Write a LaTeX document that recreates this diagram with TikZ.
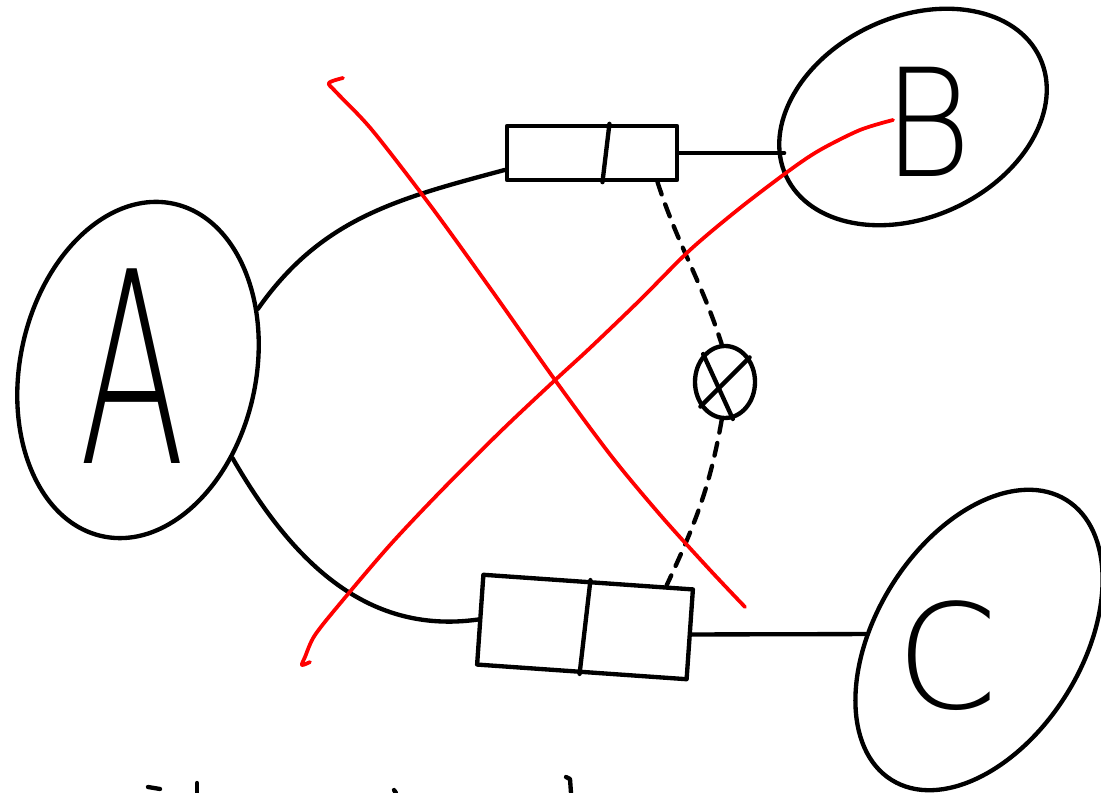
\documentclass[tikz,border=0pt]{standalone}
\usepackage{fontspec}
\usepackage{tikz}
\usetikzlibrary{positioning,shapes.geometric,calc}
\newfontfamily\handfont{DejaVu Sans ExtraLight}

\begin{document}
\begin{tikzpicture}[x=0.03cm,y=0.03cm,
    pen/.style={line width=3.7pt,line cap=round,line join=round},
    blob/.style={pen,draw,ellipse,inner sep=0pt},
    queue/.style={pen,draw,rectangle,inner sep=0pt},
    lossy/.style={pen,dash pattern=on 11pt off 9pt},
    strike/.style={line width=3.2pt,red,line cap=round,line join=round},
    letter/.style={inner sep=0pt}]
    \useasboundingbox (0,0) rectangle (1101,793);

    % Hosts A, B and C
    \node[blob,minimum width=7.08cm,minimum height=10.2cm,rotate=-12] (A) at (138,423) {};
    \node[blob,minimum width=8.4cm,minimum height=6cm,rotate=25] (B) at (913,676) {};
    \node[blob,minimum width=9.9cm,minimum height=6.18cm,rotate=58] (C) at (979,153) {};
    \node[letter,font=\handfont\fontsize{228}{228}\selectfont] (Aname) at (132,427) {\scalebox{0.58}[1]{A}};
    \node[letter,font=\handfont\fontsize{128}{128}\selectfont] (Bname) at (928,671) {\scalebox{0.9}[1]{B}};
    \node[letter,font=\handfont\fontsize{124}{124}\selectfont] (Cname) at (947,137) {C};

    % Queues
    \node[queue,minimum width=5.1cm,minimum height=1.62cm] (q1) at (592,640) {};
    \node[queue,minimum width=6.3cm,minimum height=2.7cm,rotate=-4] (q2) at (585,166) {};
    \draw[pen] ($(q1.north west)!0.6!(q1.north east)$) -- ($(q1.south west)!0.56!(q1.south east)$);
    \draw[pen] ($(q2.north west)!0.51!(q2.north east)$) -- ($(q2.south west)!0.49!(q2.south east)$);

    % Dropped packet
    \node[pen,draw,ellipse,minimum width=1.8cm,minimum height=2.16cm,inner sep=0pt] (drop) at (725,411) {};
    \draw[pen] (drop.128) -- (drop.-78);
    \draw[pen] (drop.-135) -- (drop.45);

    % Links
    \draw[pen] (A.39) to[out=55,in=195] (q1.191);
    \draw[pen] (A.-31) to[out=-60,in=188] (q2.west);
    \draw[pen] (q1.east) -- (q1.east -| B.west);
    \draw[pen] (q2.east) -- (C.119);
    \draw[lossy] (q1.-24) to[out=-72,in=108] (drop.95);
    \draw[lossy] (drop.-95) to[out=-100,in=65] (q2.31);

    % Crossed out
    \draw[strike] plot[smooth] coordinates {(343,715) (329,710) (336,701) (372,663) (430,588)
        (490,505) (555,413) (612,336) (662,276) (710,223) (745,186)};
    \draw[strike] plot[smooth] coordinates {(893,673) (860,663) (820,643) (790,623) (740,585)
        (690,543) (640,493) (590,445) (553,411) (500,361) (440,301) (390,248) (343,193)
        (315,158) (305,136) (302,128) (310,131)};

    % Cut off writing at the bottom
    \draw[pen] (148,6) -- (160,4);
    \draw[pen] (197,10) -- (197,0);
    \draw[pen] (394,3) -- (396,0);
    \draw[pen] (566,16) -- (570,14) -- (571,0);
\end{tikzpicture}
\end{document}
